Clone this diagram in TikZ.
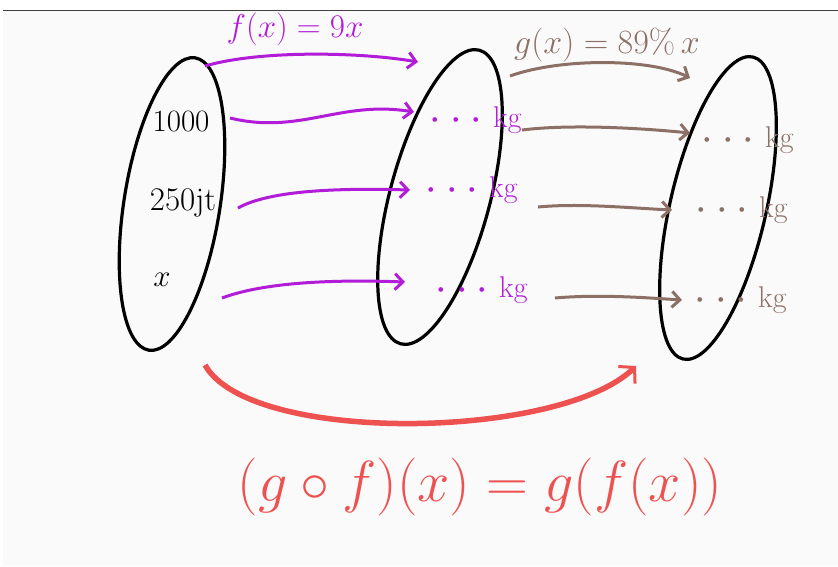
\RequirePackage{fix-cm}
\documentclass[tikz,border=0pt]{standalone}
\usetikzlibrary{shapes.geometric,arrows.meta}
\usepackage{amsmath}
\definecolor{bgc}{RGB}{250,250,250}
\definecolor{fpurple}{RGB}{178,28,216}
\definecolor{gbrown}{RGB}{140,112,102}
\definecolor{cred}{RGB}{238,82,80}
\newcommand{\onedot}{$\boldsymbol{\cdot}$}
\newcommand{\dotskg}{\onedot\hspace{11pt}\onedot\hspace{11pt}\onedot\hspace{12pt}kg}
\begin{document}
\begin{tikzpicture}[x=1pt,y=-1pt,
  setshape/.style={ellipse, draw=black, line width=3.2pt, inner sep=0pt},
  big/.style={font=\fontsize{31}{34}\selectfont},
  kgsize/.style={font=\fontsize{30}{34}\selectfont},
  farrow/.style={draw=fpurple, line width=3pt, -{Straight Barb[length=8pt,width=16pt,line width=3pt]}},
  garrow/.style={draw=gbrown, line width=3pt, -{Straight Barb[length=8pt,width=16pt,line width=3pt]}},
  harrow/.style={draw=cred, line width=5.5pt, -{Straight Barb[length=11pt,width=24pt,line width=3pt]}},
  flab/.style={kgsize, text=fpurple, inner sep=0pt},
  glab/.style={kgsize, text=gbrown, inner sep=0pt}]
\useasboundingbox (0,0) rectangle (838,566);
\fill[white] (0,0) rectangle (838,566);
\fill[bgc] (3,10) rectangle (838,566);
\draw[black!75, line width=1pt] (3,10) -- (838,10);

% sets
\node[setshape, rotate=81, minimum width=296pt, minimum height=96pt] (A) at (172,204) {};
\node[setshape, rotate=75, minimum width=304pt, minimum height=100pt] (B) at (440,197) {};
\node[setshape, rotate=77, minimum width=310pt, minimum height=96pt] (C) at (718,208) {};

% domain elements
\node[big] (a1) at (181,121) {1000};
\node[big, font=\fontsize{33}{36}\selectfont] (a2) at (183,203) {250jt};
\node[big] (a3) at (162,280) {$x$};

% middle images
\node[flab] (b1) at (476,120) {\dotskg};
\node[flab] (b2) at (472,190) {\dotskg};
\node[flab] (b3) at (482,290) {\dotskg};

% right images
\node[glab] (c1) at (748,140) {\dotskg};
\node[glab] (c2) at (742,210) {\dotskg};
\node[glab] (c3) at (741,300) {\dotskg};

% arrow end points
\coordinate (fs0) at (205,66);  \coordinate (fe0) at (418,62);
\coordinate (fs1) at (230,118); \coordinate (fe1) at (414,112);
\coordinate (fs2) at (238,208); \coordinate (fe2) at (410,190);
\coordinate (fs3) at (222,298); \coordinate (fe3) at (405,282);
\coordinate (gs0) at (510,76);  \coordinate (ge0) at (690,78);
\coordinate (gs1) at (522,130); \coordinate (ge1) at (690,133);
\coordinate (gs2) at (538,207); \coordinate (ge2) at (672,210);
\coordinate (gs3) at (555,298); \coordinate (ge3) at (682,300);
\coordinate (hs) at (205,365);  \coordinate (he) at (636,366);

% f arrows
\draw[farrow] (fs0) .. controls (260,50) and (360,52) .. (fe0);
\draw[farrow] (fs1) .. controls (300,135) and (340,100) .. (fe1);
\draw[farrow] (fs2) .. controls (270,190) and (340,188) .. (fe2);
\draw[farrow] (fs3) .. controls (270,280) and (350,280) .. (fe3);
\node[flab, font=\fontsize{33}{36}\selectfont] (flabel) at (295,29) {$f(x) = 9x$};

% g arrows
\draw[garrow] (gs0) .. controls (560,58) and (650,58) .. (ge0);
\draw[garrow] (gs1) .. controls (570,124) and (640,128) .. (ge1);
\draw[garrow] (gs2) .. controls (580,203) and (630,208) .. (ge2);
\draw[garrow] (gs3) .. controls (600,294) and (650,298) .. (ge3);
\node[glab, font=\fontsize{34}{38}\selectfont] (glabel) at (607,45) {$g(x) = 89\%\,x$};

% composition arrow
\draw[harrow] (hs) .. controls (250,445) and (560,440) .. (he);
\node[text=cred, inner sep=0pt, font=\fontsize{58}{62}\selectfont] (comp) at (480,487) {$(g\circ f)(x) = g(f(x))$};
\end{tikzpicture}
\end{document}
